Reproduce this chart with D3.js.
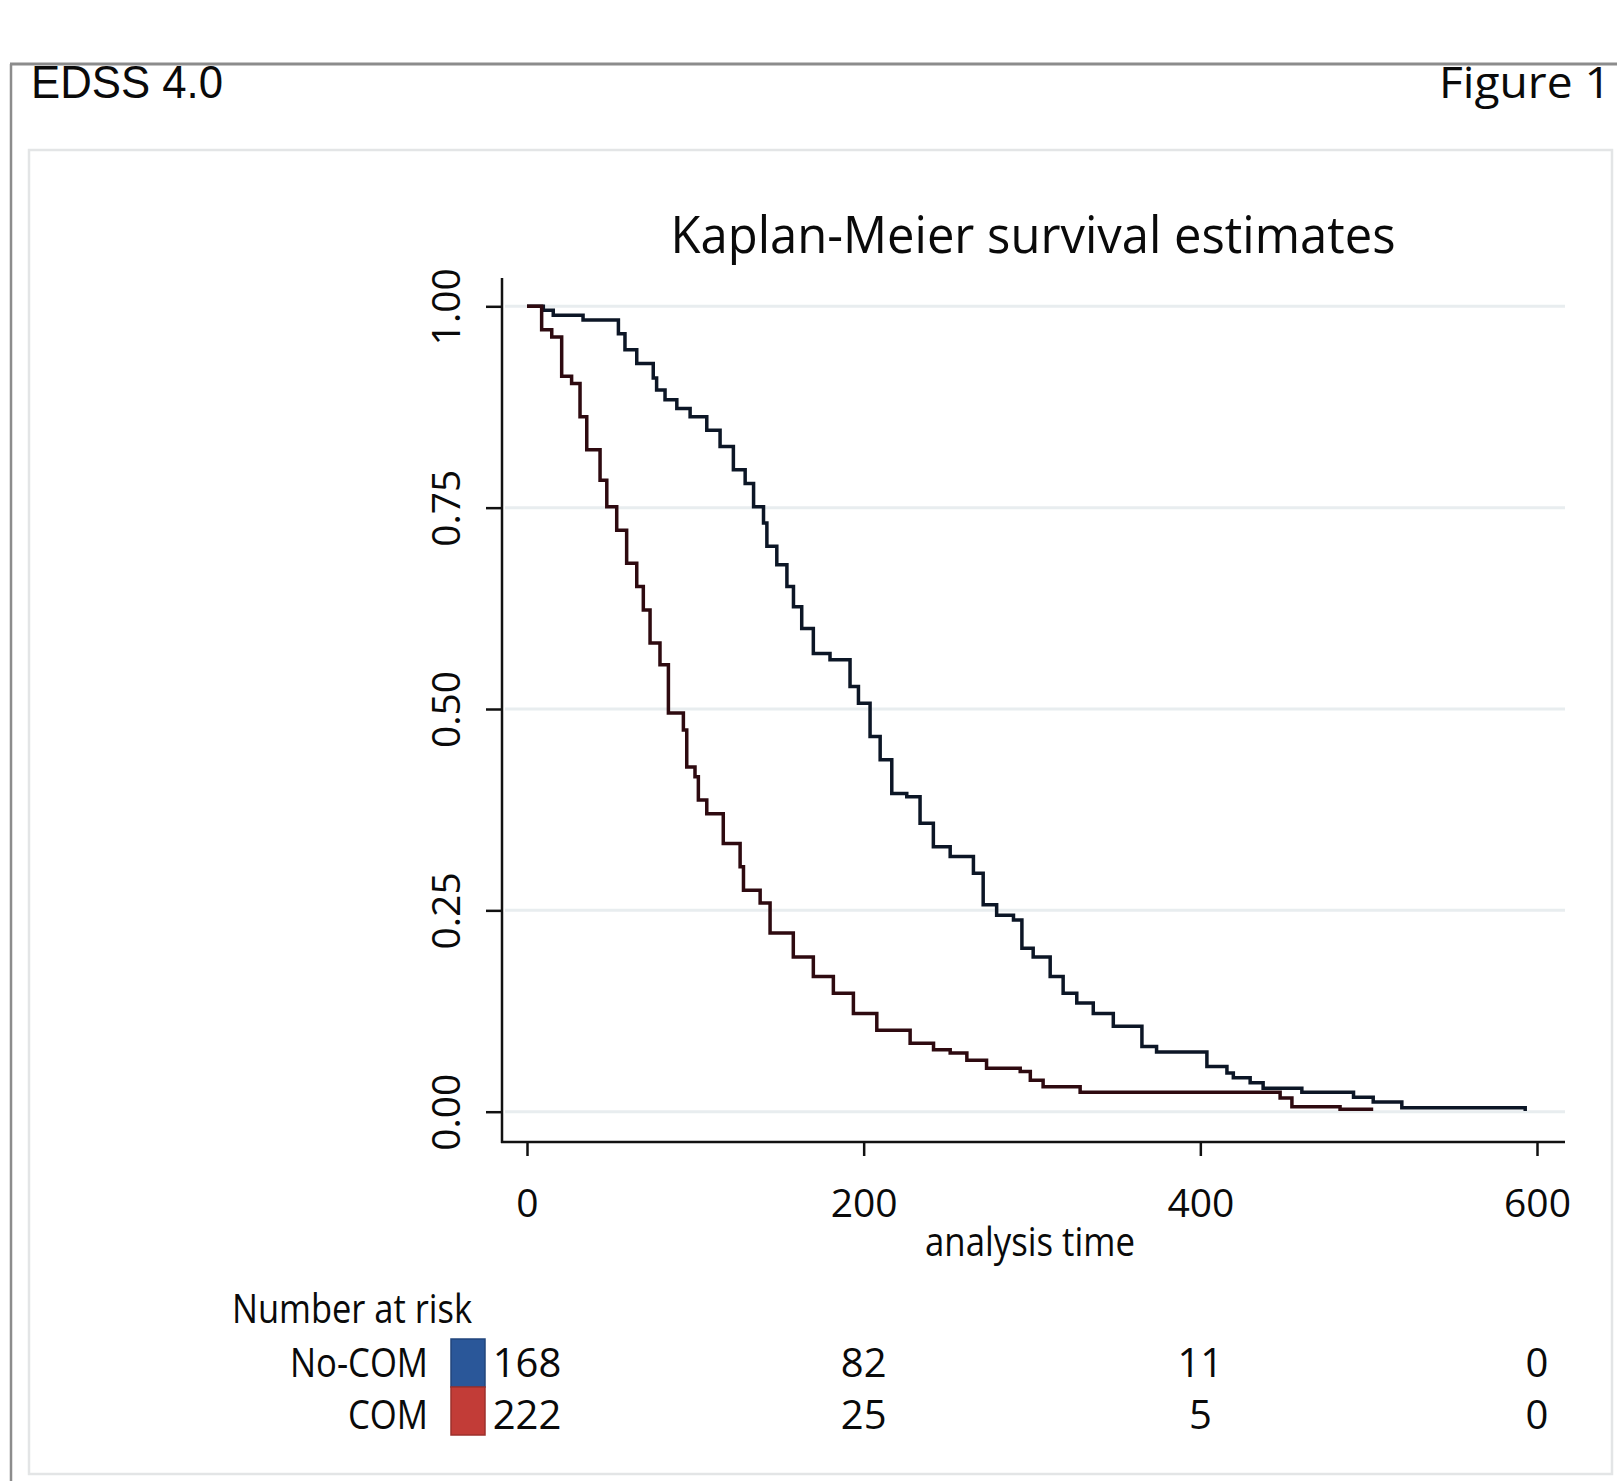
<!DOCTYPE html>
<html>
<head>
<meta charset="utf-8">
<script src="https://cdn.jsdelivr.net/npm/d3@7"></script>
<style>
  body { margin: 0; background: #fff; }
  text { font-family: 'Open Sans', sans-serif; fill: #0a0a0a; }
</style>
</head>
<body>
<div id="main"></div>
<script>
// Kaplan-Meier steps: time and survival after each drop
const tNoCom = [0, 9.7, 15.6, 33.3, 54.3, 58.2, 65.2, 75, 77, 82, 89, 96.9, 106.8, 114.7, 122.6, 129.6, 134.6, 140.5, 142.5, 148.4, 154.4, 158.3, 163.2, 170.1, 180, 191.9, 196.9, 203.8, 209.8, 216.7, 225.6, 233.5, 241.4, 251.4, 265.2, 271, 279, 289, 294, 300.7, 310.8, 318.5, 326.6, 336.4, 348.3, 365.3, 374, 403.9, 415.8, 419.6, 429.6, 437.3, 460.3, 491, 502.7, 519.7, 593];
const sNoCom = [1, 0.995, 0.989, 0.983, 0.966, 0.946, 0.929, 0.911, 0.896, 0.884, 0.873, 0.863, 0.846, 0.826, 0.797, 0.780, 0.751, 0.731, 0.702, 0.679, 0.652, 0.627, 0.600, 0.569, 0.561, 0.528, 0.507, 0.466, 0.437, 0.395, 0.391, 0.358, 0.329, 0.317, 0.296, 0.257, 0.244, 0.238, 0.203, 0.192, 0.168, 0.147, 0.135, 0.122, 0.106, 0.081, 0.074, 0.056, 0.048, 0.042, 0.036, 0.029, 0.024, 0.018, 0.012, 0.005, 0.001];

const tCom = [0, 8.7, 14.7, 20.6, 26.5, 31.5, 35.5, 43.4, 47.4, 53.3, 59.2, 65.2, 69.1, 73.1, 79, 84, 92.9, 94.9, 99.8, 101.8, 106.8, 116.6, 126.6, 128.6, 138.5, 144.4, 158.2, 170.1, 182, 193.9, 207.8, 227.6, 241.5, 251.4, 261.3, 273, 293, 299, 306.6, 328.6, 447.4, 454.4, 483, 502.7];
const sCom = [1, 0.971, 0.962, 0.913, 0.904, 0.863, 0.822, 0.784, 0.751, 0.722, 0.681, 0.652, 0.623, 0.582, 0.555, 0.495, 0.474, 0.428, 0.416, 0.387, 0.370, 0.333, 0.304, 0.275, 0.259, 0.222, 0.192, 0.168, 0.147, 0.122, 0.101, 0.085, 0.077, 0.073, 0.064, 0.054, 0.050, 0.039, 0.031, 0.024, 0.017, 0.006, 0.003, 0.003];

const groups = ['No-COM', 'COM'];
const lineColors = ['#0c1626', '#2e0a10'];
const boxColors = ['#2a5799', '#c23c37'];

const xTicks = [0, 200, 400, 600];
const yTicks = [0, 0.25, 0.5, 0.75, 1];
const atRisk = [[168, 82, 11, 0], [222, 25, 5, 0]];

const width = 1617, height = 1481;

const svg = d3.select('#main').append('svg').attr('width', width).attr('height', height);

const xScale = d3.scaleLinear().domain([0, 600]).range([527, 1537]);
const yScale = d3.scaleLinear().domain([0, 1]).range([1111.7, 306.3]);

function label(x, y, str, size, len) {
    let t = svg.append('text')
        .attr('x', x)
        .attr('y', y)
        .style('font-size', size + 'px')
        .text(str);
    if (len) t.attr('textLength', len).attr('lengthAdjust', 'spacingAndGlyphs');
    return t;
}

function drawFrame() {
    // outer figure frame
    svg.append('line').attr('x1', 10).attr('x2', width).attr('y1', 64).attr('y2', 64)
        .style('stroke', '#8c8c8c').style('stroke-width', 3);
    svg.append('line').attr('x1', 11).attr('x2', 11).attr('y1', 64).attr('y2', height)
        .style('stroke', '#8c8c8c').style('stroke-width', 2.5);

    // inner graph panel
    svg.append('rect').attr('x', 29).attr('y', 150).attr('width', 1583).attr('height', 1324)
        .style('fill', '#fff').style('stroke', '#e3e5e6').style('stroke-width', 2.5);

    label(31, 98, 'EDSS 4.0', 46, 192).style('font-family', "'Liberation Sans', Arial, sans-serif");
    label(1439, 98, 'Figure 1', 44, 172);
}

function drawAxes() {
    // gridlines
    svg.append('g').selectAll('line')
        .data(yTicks)
        .enter()
            .append('line')
                .attr('x1', 505)
                .attr('x2', 1565)
                .attr('y1', d => yScale(d))
                .attr('y2', d => yScale(d))
                .style('stroke', '#e8edef')
                .style('stroke-width', 3);

    let yAxis = svg.append('g')
        .attr('transform', 'translate(502,0)')
        .call(d3.axisLeft(yScale).tickValues(yTicks).tickSize(16).tickSizeOuter(0).tickFormat(d3.format('.2f')));
    yAxis.select('.domain').remove();
    yAxis.selectAll('.tick line').style('stroke', '#111').style('stroke-width', 2.5);
    yAxis.selectAll('.tick text')
        .attr('x', -42)
        .attr('dy', 0)
        .attr('transform', 'rotate(-90,-42,0)')
        .style('text-anchor', 'middle')
        .style('font-family', "'Open Sans', sans-serif")
        .style('font-size', '39px')
        .style('fill', '#0a0a0a');
    svg.append('line').attr('x1', 502).attr('x2', 502).attr('y1', 278).attr('y2', 1143)
        .style('stroke', '#111').style('stroke-width', 2.5);

    let xAxis = svg.append('g')
        .attr('transform', 'translate(0,1142)')
        .call(d3.axisBottom(xScale).tickValues(xTicks).tickSize(14).tickSizeOuter(0));
    xAxis.select('.domain').remove();
    xAxis.selectAll('.tick line').style('stroke', '#111').style('stroke-width', 2.5);
    xAxis.selectAll('.tick text')
        .attr('y', 75)
        .attr('dy', 0)
        .style('font-family', "'Open Sans', sans-serif")
        .style('font-size', '39px')
        .style('fill', '#0a0a0a');
    svg.append('line').attr('x1', 501).attr('x2', 1565).attr('y1', 1142).attr('y2', 1142)
        .style('stroke', '#111').style('stroke-width', 2.5);

    label(1033, 253, 'Kaplan-Meier survival estimates', 52, 725).style('text-anchor', 'middle');
    label(1030, 1256, 'analysis time', 41, 210).style('text-anchor', 'middle');
}

function drawCurves() {
    const series = [
        tNoCom.map((t, i) => ({ t: t, s: sNoCom[i] })),
        tCom.map((t, i) => ({ t: t, s: sCom[i] }))
    ];
    const line = d3.line()
        .x(d => xScale(d.t))
        .y(d => yScale(d.s))
        .curve(d3.curveStepAfter);

    svg.append('g').selectAll('path')
        .data(series)
        .enter()
            .append('path')
                .attr('d', line)
                .style('fill', 'none')
                .style('stroke', (d, i) => lineColors[i])
                .style('stroke-width', 3.5)
                .style('stroke-linejoin', 'miter');
}

function drawRiskTable() {
    label(232, 1323, 'Number at risk', 40, 240);
    const rowY = [1377, 1429];
    const nameLen = [138, 80];

    groups.forEach((g, i) => {
        label(428, rowY[i], g, 40, nameLen[i]).style('text-anchor', 'end');
        svg.append('rect')
            .attr('x', 451)
            .attr('y', 1339 + i * 48)
            .attr('width', 34)
            .attr('height', 48)
            .style('fill', boxColors[i])
            .style('stroke', d3.color(boxColors[i]).darker(0.6))
            .style('stroke-width', 1.5);
        svg.append('g').selectAll('text')
            .data(atRisk[i])
            .enter()
                .append('text')
                    .attr('x', (d, j) => xScale(xTicks[j]))
                    .attr('y', rowY[i])
                    .style('font-size', '40px')
                    .style('text-anchor', 'middle')
                    .text(d => d);
    });
}

drawFrame();
drawAxes();
drawCurves();
drawRiskTable();
</script>
</body>
</html>
